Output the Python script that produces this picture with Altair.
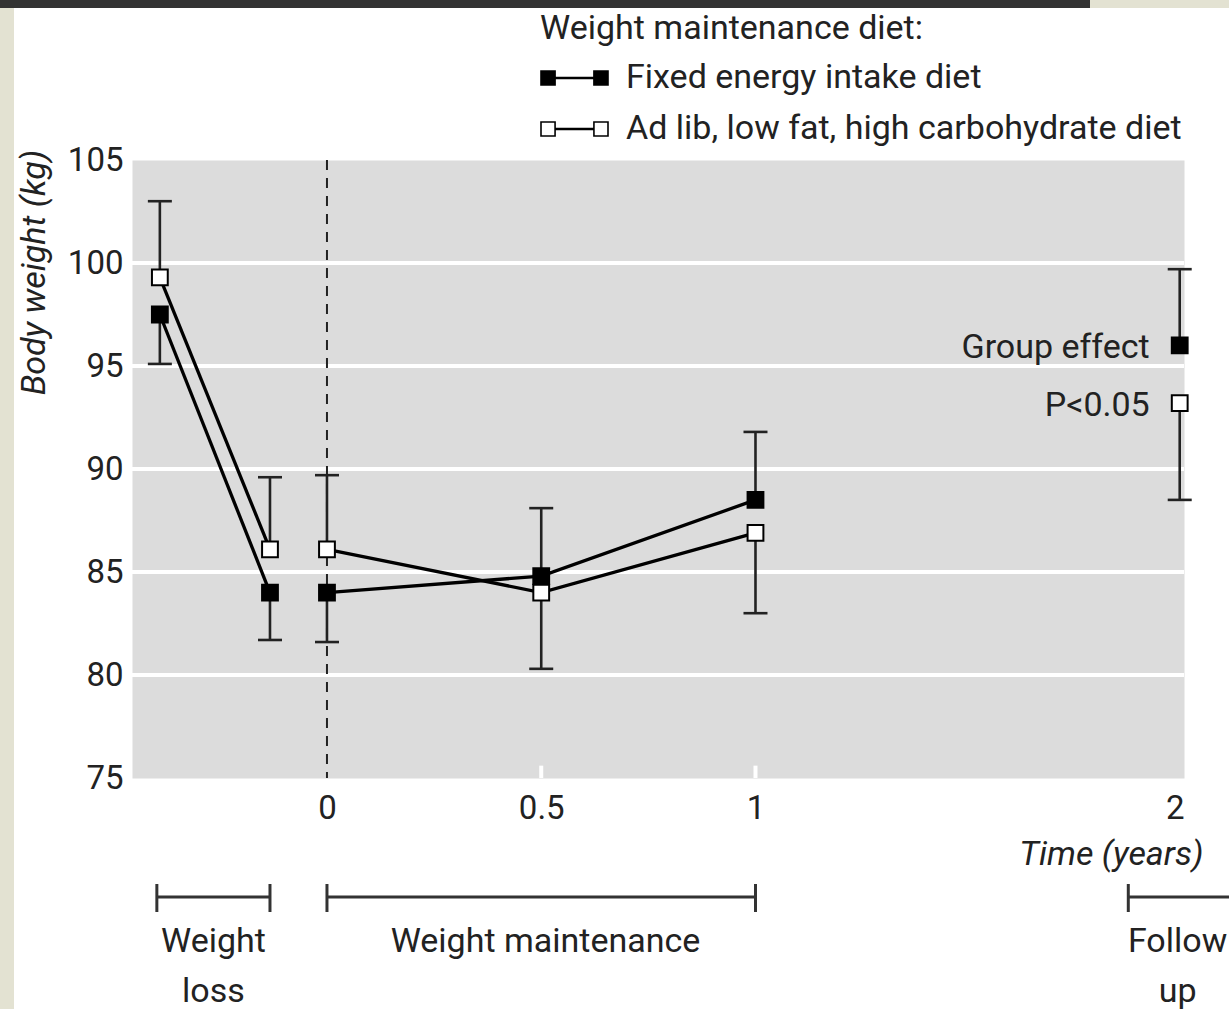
import altair as alt
import pandas as pd

FONT = "Roboto"
INK = "#222222"
TXT = 34      # general text size
TICK = 33     # tick label size

# ---------------- data ----------------
SERIES = ["Fixed energy intake diet", "Ad lib, low fat, high carbohydrate diet"]
time_years = [-0.39, -0.133, 0.0, 0.5, 1.0, 1.99]
phase = ["loss", "loss", "maint", "maint", "maint", "follow"]
fixed_mean = [97.5, 84.0, 84.0, 84.8, 88.5, 96.0]
fixed_bar_end = [95.1, 81.7, 81.6, 88.1, 91.8, 99.7]
adlib_mean = [99.3, 86.1, 86.1, 84.0, 86.9, 93.2]
adlib_bar_end = [103.0, 89.6, 89.7, 80.3, 83.0, 88.5]

y_ticks = [75, 80, 85, 90, 95, 100, 105]
grid_values = [80, 85, 90, 95, 100]
x_ticks = [0, 0.5, 1, 2]
inner_ticks = [0.5, 1.0]
start_line = [0.0]

period_labels = ["Weight\nloss", "Weight maintenance", "Follow\nup"]
period_start = [-0.397, 0.0, 1.87]
period_end = [-0.133, 1.0, 2.3]
period_label_t = [-0.265, 0.51, 1.985]

annotation_text = ["Group effect", "P<0.05"]

# ---------------- tables ----------------
rows = []
for i, t in enumerate(time_years):
    rows.append({"t": t, "series": SERIES[0], "mean": fixed_mean[i], "bar_end": fixed_bar_end[i], "phase": phase[i]})
for i, t in enumerate(time_years):
    rows.append({"t": t, "series": SERIES[1], "mean": adlib_mean[i], "bar_end": adlib_bar_end[i], "phase": phase[i]})
df = pd.DataFrame(rows)
df_lines = df[df["phase"] != "follow"]

grid_df = pd.DataFrame({"g": grid_values})
inner_df = pd.DataFrame({"t": inner_ticks, "y0": [75.0] * len(inner_ticks), "y1": [75.6] * len(inner_ticks)})
zero_df = pd.DataFrame({"t": start_line})
ann_df = pd.DataFrame({"t": [time_years[-1]] * 2, "y": [fixed_mean[-1], adlib_mean[-1]], "label": annotation_text})
periods_df = pd.DataFrame({"start": period_start, "end": period_end, "mid": period_label_t, "label": period_labels})
caps_df = pd.DataFrame({"t": period_start + period_end})
one = pd.DataFrame({"k": [0]})

X_DOMAIN = [-0.455, 2.0]
xs = alt.Scale(domain=X_DOMAIN, nice=False, zero=False)
ys = alt.Scale(domain=[75, 105], nice=False, zero=False)

x_axis = alt.Axis(values=x_ticks, labelExpr="datum.value == 0.5 ? '0.5' : format(datum.value, 'd')",
                  title="Time (years)", titleFontStyle="italic", titleFontWeight="normal",
                  titleFont=FONT, titleFontSize=TXT, titleColor=INK, titleX=1071, titleY=86,
                  titleAlign="right", titleBaseline="alphabetic",
                  labelFont=FONT, labelFontSize=TICK, labelColor=INK, labelPadding=14,
                  domain=False, ticks=False, grid=False)
y_axis = alt.Axis(values=y_ticks, title="Body weight (kg)", titleFontStyle="italic",
                  titleFontWeight="normal", titleFont=FONT, titleFontSize=TXT, titleColor=INK,
                  titleX=-88, titleY=112, titleAlign="center", titleBaseline="alphabetic",
                  labelFont=FONT, labelFontSize=TICK, labelColor=INK, labelPadding=9,
                  domain=False, ticks=False, grid=False)

# decorative page edges
left_strip = alt.Chart(one).mark_rect(color="#e3e2d2").encode(
    x=alt.value(-132), x2=alt.value(-118), y=alt.value(-160), y2=alt.value(849))
top_right_strip = alt.Chart(one).mark_rect(color="#e3e2d2").encode(
    x=alt.value(958), x2=alt.value(1097), y=alt.value(-160), y2=alt.value(-152))
dark_bar = alt.Chart(one).mark_rect(color="#333333").encode(
    x=alt.value(-132), x2=alt.value(958), y=alt.value(-160), y2=alt.value(-152))

grid = alt.Chart(grid_df).mark_rule(color="white", strokeWidth=4).encode(
    y=alt.Y("g:Q", scale=ys, axis=y_axis))
inner = alt.Chart(inner_df).mark_rule(color="white", strokeWidth=4).encode(
    x=alt.X("t:Q", scale=xs, axis=x_axis), y=alt.Y("y0:Q", scale=ys), y2="y1:Q")
zero = alt.Chart(zero_df).mark_rule(color=INK, strokeWidth=2, strokeDash=[10, 8]).encode(
    x=alt.X("t:Q", scale=xs))

lines = alt.Chart(df_lines).mark_line(color="black", strokeWidth=3.3).encode(
    x=alt.X("t:Q", scale=xs), y=alt.Y("mean:Q", scale=ys), detail=["series:N", "phase:N"])
bars = alt.Chart(df).mark_rule(color=INK, strokeWidth=2.6).encode(
    x=alt.X("t:Q", scale=xs), y=alt.Y("mean:Q", scale=ys), y2="bar_end:Q")
caps = alt.Chart(df).mark_rule(color=INK, strokeWidth=2.6, xOffset=-12, x2Offset=12).encode(
    x=alt.X("t:Q", scale=xs), x2="t:Q", y=alt.Y("bar_end:Q", scale=ys))

legend_symbol = ("M-1,-0.21L-0.58,-0.21L-0.58,0.21L-1,0.21Z "
                 "M0.58,-0.21L1,-0.21L1,0.21L0.58,0.21Z "
                 "M-0.58,-0.012L0.58,-0.012L0.58,0.012L-0.58,0.012Z")
legend = alt.Legend(title="Weight maintenance diet:", orient="none", legendX=408, legendY=-148,
                    padding=0, titleFont=FONT, titleFontSize=TXT, titleFontWeight="normal",
                    titleColor=INK, titleLimit=1000, titlePadding=12,
                    labelFont=FONT, labelFontSize=TXT, labelColor=INK, labelLimit=1000,
                    labelOffset=17, symbolType=legend_symbol, symbolSize=4489,
                    symbolStrokeColor="black", symbolStrokeWidth=1.6, symbolOpacity=1,
                    clipHeight=40, rowPadding=11)
points = alt.Chart(df).mark_point(shape="square", filled=True, size=250, stroke="black",
                                  strokeWidth=2, opacity=1).encode(
    x=alt.X("t:Q", scale=xs), y=alt.Y("mean:Q", scale=ys),
    fill=alt.Fill("series:N", scale=alt.Scale(domain=SERIES, range=["black", "white"]), legend=legend))

ann = alt.Chart(ann_df).mark_text(font=FONT, fontSize=TXT, color=INK, align="right",
                                  baseline="middle", dx=-30, dy=3).encode(
    x=alt.X("t:Q", scale=xs), y=alt.Y("y:Q", scale=ys), text="label:N")

brackets = alt.Chart(periods_df).mark_rule(color="#333333", strokeWidth=3).encode(
    x=alt.X("start:Q", scale=xs), x2="end:Q", y=alt.value(737))
bracket_caps = alt.Chart(caps_df).mark_rule(color="#333333", strokeWidth=3).encode(
    x=alt.X("t:Q", scale=xs), y=alt.value(724), y2=alt.value(752))
period_text = alt.Chart(periods_df).mark_text(font=FONT, fontSize=TXT, color=INK, align="center",
                                              baseline="alphabetic", lineBreak="\n",
                                              lineHeight=50).encode(
    x=alt.X("mid:Q", scale=xs), y=alt.value(792), text="label:N")

chart = alt.layer(
    left_strip, top_right_strip, dark_bar, grid, inner, zero, lines, bars, caps, points,
    ann, brackets, bracket_caps, period_text
).properties(
    width=1052, height=618,
    autosize=alt.AutoSizeParams(type="none"),
    padding={"left": 132, "top": 160, "right": 45, "bottom": 231},
).configure(background="white").configure_view(stroke="transparent", fill="#dcdcdc")

chart.save("out.html", embed_options={"renderer": "svg", "actions": False})
